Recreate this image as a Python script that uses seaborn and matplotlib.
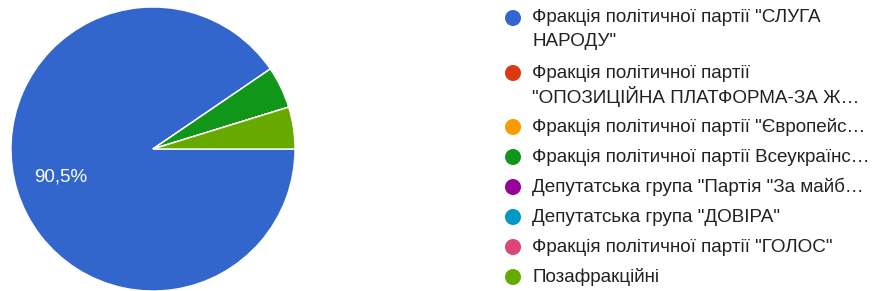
import matplotlib
matplotlib.use("Agg")
import matplotlib.pyplot as plt
import seaborn as sns
from matplotlib.patches import Ellipse

# ---- data ----
categories = [
    'Фракція політичної партії "СЛУГА\nНАРОДУ"',
    'Фракція політичної партії\n"ОПОЗИЦІЙНА ПЛАТФОРМА-ЗА Ж…',
    'Фракція політичної партії "Європейс…',
    'Фракція політичної партії Всеукраїнс…',
    'Депутатська група "Партія "За майб…',
    'Депутатська група "ДОВІРА"',
    'Фракція політичної партії "ГОЛОС"',
    'Позафракційні',
]
counts = [19, 0, 0, 1, 0, 0, 0, 1]
colors = ["#3366cc", "#dc3912", "#ff9900", "#109618",
          "#990099", "#0099c6", "#dd4477", "#66aa00"]

sns.set_theme(style="white")
plt.rcParams['font.family'] = ['Liberation Sans', 'DejaVu Sans']

W, H = 872, 291
fig = plt.figure(figsize=(W / 100, H / 100), dpi=100)
ax = fig.add_axes([0, 0, 1, 1])
ax.set_axis_off()

R = 142.0
cx, cy = 153.0, 149.0  # pixel position of centre (from top-left)


def fmt(p):
    return (f"{p:.1f}%".replace('.', ',')) if p > 10 else ""


wedges, texts, autotexts = ax.pie(
    counts, colors=colors, startangle=0, counterclock=False,
    radius=1.0, center=(0, 0), autopct=fmt, pctdistance=0.68,
    wedgeprops=dict(edgecolor="white", linewidth=1.0),
    textprops=dict(color="white", fontsize=13.5),
)
ax.set_xlim(-cx / R, (W - cx) / R)
ax.set_ylim(-(H - cy) / R, cy / R)
ax.set_aspect('equal')
for t in autotexts:
    t.set_color("white")
    t.set_fontsize(13.5)

# ---- legend (manual, Google-style) ----
row_y = [18, 73, 127, 157, 187, 217, 247, 277]  # pixel y of first line
line_gap = 24
for lab, col, y in zip(categories, colors, row_y):
    fy = 1 - y / H
    fig.patches.append(Ellipse((513 / W, fy), 16 / W, 16 / H,
                               transform=fig.transFigure,
                               facecolor=col, edgecolor='none'))
    lines = lab.split("\n")
    for i, ln in enumerate(lines):
        fig.text(532 / W, 1 - (y + i * line_gap) / H, ln, fontsize=13.6,
                 color="#212121", va="center", ha="left")

fig.savefig("out.png", dpi=100)
